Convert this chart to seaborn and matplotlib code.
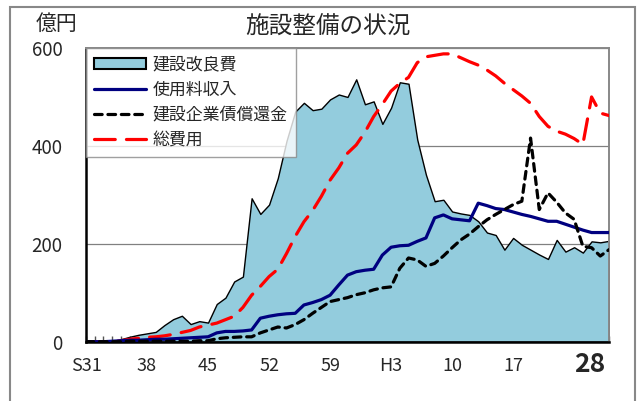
import numpy as np
import pandas as pd
import seaborn as sns
import matplotlib.pyplot as plt
from matplotlib.patches import Patch, Rectangle
from matplotlib.lines import Line2D
from matplotlib.ticker import MultipleLocator, FixedLocator, FixedFormatter

# fiscal years S31 (1956) .. H28 (2016)
years = list(range(61))
tick_pos = [0, 7, 14, 21, 28, 35, 42, 49]
tick_labels = ['S31', '38', '45', '52', '59', 'H3', '10', '17']

# 建設改良費 (area)
construction = [0, 0, 0, 0, 5, 10, 14, 17, 20, 34, 46, 53, 36, 42, 39, 77, 90, 123, 133, 293,
                261, 280, 334, 410, 470, 488, 473, 476, 495, 505, 500, 536, 485, 491, 445, 478,
                530, 527, 413, 341, 287, 290, 266, 262, 259, 246, 223, 218, 188, 212, 198, 188,
                178, 169, 208, 184, 193, 182, 205, 203, 206]
# 使用料収入
revenue = [0, 0, 0, 1, 2, 3, 3, 4, 5, 5, 6, 7, 8, 9, 10, 18, 21, 21, 22, 24,
           48, 52, 55, 57, 58, 75, 80, 86, 95, 116, 136, 143, 146, 148, 177, 193,
           196, 197, 205, 212, 253, 259, 251, 249, 247, 283, 278, 272, 270, 265, 260, 256,
           251, 246, 246, 240, 234, 228, 223, 223, 223]
# 建設企業債償還金
bond = [0, 0, 0, 0, 0, 1, 1, 1, 1, 1, 1, 1, 1, 2, 2, 6, 8, 9, 10, 10,
        18, 24, 30, 28, 35, 45, 58, 70, 82, 86, 90, 96, 100, 106, 110, 112,
        150, 171, 167, 154, 160, 175, 192, 208, 220, 235, 249, 260, 270, 280, 287, 416,
        270, 304, 285, 263, 250, 195, 192, 175, 188]
# 総費用
total = [0, 0, 0, 0, 2, 5, 7, 9, 10, 12, 15, 19, 23, 30, 34, 38, 45, 52, 70, 95,
         113, 133, 148, 180, 215, 245, 268, 297, 330, 355, 385, 402, 428, 460, 485, 512,
         528, 540, 570, 582, 585, 588, 588, 580, 572, 565, 555, 543, 528, 515, 502, 487,
         460, 440, 430, 424, 415, 403, 500, 467, 462]

df = pd.DataFrame({'year': years, 'construction': construction, 'revenue': revenue,
                   'bond': bond, 'total': total})

sns.set_style('white')
plt.rcParams['font.family'] = ['Noto Sans CJK JP', 'DejaVu Sans']

fig = plt.figure(figsize=(6.37, 4.01), dpi=100)
ax = fig.add_axes([86 / 637, 1 - 341.7 / 401, (609 - 86) / 637, (341.7 - 48) / 401])

area_color = '#93CCDD'
ax.fill_between(df['year'], 0, df['construction'], facecolor=area_color,
                edgecolor='black', linewidth=1.0, zorder=2)

bond_dash = (0, (2.4, 1.8))
total_dash = (0, (6.5, 3.5))
sns.lineplot(data=df, x='year', y='revenue', color='#000080', linewidth=2.3,
             ax=ax, zorder=4)
sns.lineplot(data=df, x='year', y='bond', color='black', linewidth=2.3,
             linestyle=bond_dash, dash_capstyle='round', ax=ax, zorder=5)
sns.lineplot(data=df, x='year', y='total', color='#FF0000', linewidth=2.3,
             linestyle=total_dash, dash_capstyle='round', ax=ax, zorder=3)

ax.set_xlim(0, 60)
ax.set_ylim(0, 600)
ax.set_xlabel('')
ax.set_ylabel('')

ax.set_yticks([0, 200, 400, 600])
ax.yaxis.grid(True, color='#808080', linewidth=0.9)
ax.set_axisbelow(True)
ax.tick_params(axis='y', length=0, pad=17, labelsize=13.5)

ax.xaxis.set_major_locator(FixedLocator(tick_pos))
ax.xaxis.set_major_formatter(FixedFormatter(tick_labels))
ax.xaxis.set_minor_locator(MultipleLocator(1))
ax.tick_params(axis='x', which='both', direction='in', length=4, width=1,
               color='#555555', pad=11, labelsize=13, bottom=True)

ax.text(57.8, -0.03, '28', transform=ax.get_xaxis_transform(), ha='center', va='top',
        fontsize=19, fontweight='bold')

for side in ['left', 'bottom']:
    ax.spines[side].set_color('black')
    ax.spines[side].set_linewidth(1.8)
for side in ['top', 'right']:
    ax.spines[side].set_color('#888888')
    ax.spines[side].set_linewidth(1.4)

handles = [
    Patch(facecolor=area_color, edgecolor='black', linewidth=1.5),
    Line2D([], [], color='#000080', linewidth=2.3),
    Line2D([], [], color='black', linewidth=2.3, linestyle=bond_dash, dash_capstyle='round'),
    Line2D([], [], color='#FF0000', linewidth=2.3, linestyle=total_dash, dash_capstyle='round'),
]
labels = ['建設改良費', '使用料収入', '建設企業債償還金', '総費用']
leg = ax.legend(handles, labels, loc='upper left', borderaxespad=0, fontsize=12.2,
                handlelength=3.1, handleheight=0.6, labelspacing=0.42,
                fancybox=False, frameon=True, borderpad=0.45, handletextpad=0.4)
leg.get_frame().set_edgecolor('#888888')
leg.get_frame().set_linewidth(1.0)
leg.set_zorder(10)

fig.text(0.515, 0.933, '施設整備の状況', ha='center', va='center', fontsize=17)
fig.text(0.0887, 0.940, '億円', ha='center', va='center', fontsize=15)

fig.patches.append(Rectangle((10 / 637, -0.05), (635 - 10) / 637, 1 - 7 / 401 + 0.05,
                             transform=fig.transFigure, fill=False,
                             edgecolor='#888888', linewidth=1.5))

fig.savefig('out.png', dpi=100)
